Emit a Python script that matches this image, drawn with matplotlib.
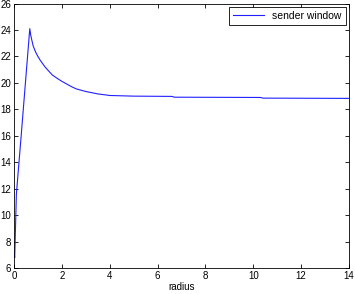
import matplotlib
matplotlib.use("Agg")
import matplotlib.pyplot as plt

# sender window vs radius
radius = [0, 0.03, 0.1, 0.3, 0.66, 0.7, 0.8, 0.9, 1.0, 1.1, 1.2, 1.3, 1.5, 1.6, 1.8, 2.0,
          2.2, 2.4, 2.6, 3.0, 3.5, 4.0, 5.0, 6.6, 6.7, 10.3, 10.4, 14]
window = [7.2, 6.8, 11.6, 16.0, 24.1, 23.6, 22.8, 22.35, 22.0, 21.7, 21.45, 21.2, 20.8,
          20.6, 20.35, 20.12, 19.92, 19.72, 19.55, 19.35, 19.17, 19.05, 19.0,
          18.98, 18.92, 18.9, 18.85, 18.83]

xticks = [0, 2, 4, 6, 8, 10, 12, 14]
yticks = [6, 8, 10, 12, 14, 16, 18, 20, 22, 24, 26]

plt.rcParams['font.family'] = ['Liberation Sans', 'DejaVu Sans']

fig = plt.figure(figsize=(3.55, 2.94), dpi=100)
ax = fig.add_axes([0.0394, 0.088, 0.9437, 0.9])

ax.plot(radius, window, color='#2020ff', lw=0.8, label='sender window')
ax.set_xlim(0, 14)
ax.set_ylim(6, 26)
ax.set_xticks(xticks)
ax.set_yticks(yticks)
ax.tick_params(direction='in', length=3, width=0.6, labelsize=7, pad=2,
               top=True, right=True)
for s in ax.spines.values():
    s.set_linewidth(0.6)
ax.set_xlabel('radius', fontsize=7, labelpad=1)

leg = ax.legend(loc='upper right', fontsize=7.5, fancybox=False, framealpha=1,
                edgecolor='black', handlelength=3.0, borderpad=0.4,
                borderaxespad=0.3)
leg.get_frame().set_linewidth(0.6)

fig.savefig('out.png', dpi=100)
